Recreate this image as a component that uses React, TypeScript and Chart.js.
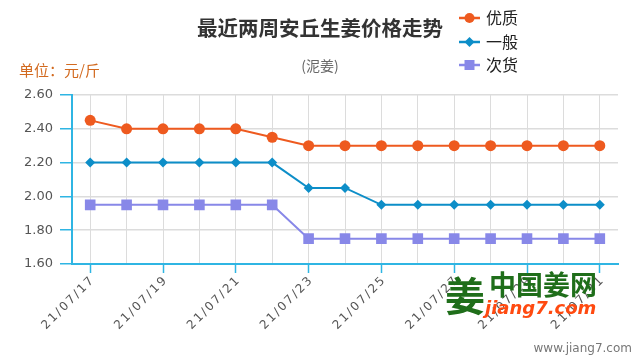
import React, { useEffect, useRef } from "react";
import { Chart, registerables } from "chart.js";

Chart.register(...registerables);

const categories = [
  "21/07/17", "21/07/18", "21/07/19", "21/07/20", "21/07/21", "21/07/22", "21/07/23", "21/07/24",
  "21/07/25", "21/07/26", "21/07/27", "21/07/28", "21/07/29", "21/07/30", "21/07/31",
];
const premium = [2.45, 2.4, 2.4, 2.4, 2.4, 2.35, 2.3, 2.3, 2.3, 2.3, 2.3, 2.3, 2.3, 2.3, 2.3];
const regular = [2.2, 2.2, 2.2, 2.2, 2.2, 2.2, 2.05, 2.05, 1.95, 1.95, 1.95, 1.95, 1.95, 1.95, 1.95];
const inferior = [1.95, 1.95, 1.95, 1.95, 1.95, 1.95, 1.75, 1.75, 1.75, 1.75, 1.75, 1.75, 1.75, 1.75, 1.75];
const seriesNames = ["优质", "一般", "次货"];
const yTicks = [1.6, 1.8, 2.0, 2.2, 2.4, 2.6];

const title = "最近两周安丘生姜价格走势";
const subtitle = "(泥姜)";
const unitLabel = "单位：元/斤";

const ORANGE = "#ee5a1f";
const BLUE = "#0d8ec8";
const PURPLE = "#8888e8";
const CYAN = "#2fb5e3";
const GRID = "#dcdcdc";

function drawMarker(ctx: CanvasRenderingContext2D, kind: string, x: number, y: number, color: string) {
  ctx.fillStyle = color;
  ctx.beginPath();
  if (kind === "circle") {
    ctx.arc(x, y, 5, 0, Math.PI * 2);
  } else if (kind === "diamond") {
    ctx.moveTo(x, y - 5);
    ctx.lineTo(x + 5, y);
    ctx.lineTo(x, y + 5);
    ctx.lineTo(x - 5, y);
    ctx.closePath();
  } else {
    ctx.rect(x - 5, y - 5, 10, 10);
  }
  ctx.fill();
}

const decorPlugin = {
  id: "decor",
  afterDraw(chart: any) {
    const ctx: CanvasRenderingContext2D = chart.ctx;
    const xScale = chart.scales.x;
    ctx.save();
    // x labels
    ctx.font = "12px 'DejaVu Sans'";
    (ctx as any).letterSpacing = "2px";
    ctx.fillStyle = "#555";
    ctx.textAlign = "right";
    ctx.textBaseline = "middle";
    categories.forEach((c, i) => {
      if (i % 2 !== 0) return;
      const px = xScale.getPixelForTick(i);
      ctx.save();
      ctx.translate(px + 3, xScale.top + 14);
      ctx.rotate(-Math.PI / 4);
      ctx.fillText(c, 0, 0);
      ctx.restore();
    });
    (ctx as any).letterSpacing = "0px";

    // title
    ctx.textAlign = "center";
    ctx.fillStyle = "#333";
    ctx.font = "bold 20.5px 'Noto Sans CJK SC'";
    ctx.fillText(title, 320, 28);
    ctx.fillStyle = "#666";
    ctx.font = "14px 'Noto Sans CJK SC'";
    ctx.fillText(subtitle, 320, 66);
    ctx.textAlign = "left";
    ctx.fillStyle = "#d2691e";
    ctx.font = "15px 'Noto Sans CJK SC'";
    ctx.fillText(unitLabel, 19, 70);

    // legend
    const colors = [ORANGE, BLUE, PURPLE];
    const kinds = ["circle", "diamond", "square"];
    const ys = [18, 42, 65];
    seriesNames.forEach((n, i) => {
      const y = ys[i];
      ctx.strokeStyle = colors[i];
      ctx.lineWidth = 2.5;
      ctx.beginPath();
      ctx.moveTo(459, y);
      ctx.lineTo(480, y);
      ctx.stroke();
      drawMarker(ctx, kinds[i], 469.5, y, colors[i]);
      ctx.fillStyle = "#222";
      ctx.font = "16px 'Noto Sans CJK SC'";
      ctx.textAlign = "left";
      ctx.fillText(n, 486, y);
    });

    // watermark
    ctx.fillStyle = "#1f6e1a";
    ctx.font = "bold 40px 'Noto Sans CJK SC'";
    ctx.textAlign = "center";
    ctx.fillText("姜", 465, 296);
    ctx.font = "bold 27px 'Noto Sans CJK SC'";
    ctx.textAlign = "left";
    ctx.fillText("中国姜网", 489, 285);
    ctx.fillStyle = "#ff4a10";
    ctx.font = "italic bold 18px 'DejaVu Sans'";
    ctx.fillText("jiang7.com", 485, 309);
    ctx.fillStyle = "#777";
    ctx.font = "12px 'DejaVu Sans'";
    ctx.textAlign = "right";
    ctx.fillText("www.jiang7.com", 632, 349);
    ctx.restore();
  },
};

export default function App() {
  const ref = useRef<HTMLCanvasElement | null>(null);
  useEffect(() => {
    if (!ref.current) return;
    const mk = (label: string, data: number[], color: string, style: any, r: number) => ({
      label,
      data,
      borderColor: color,
      backgroundColor: color,
      pointBackgroundColor: color,
      pointBorderColor: color,
      pointStyle: style,
      pointRadius: r,
      pointBorderWidth: 0,
      borderWidth: 2,
      tension: 0,
    });
    const chart = new Chart(ref.current, {
      type: "line",
      data: {
        labels: categories,
        datasets: [
          mk(seriesNames[0], premium, ORANGE, "circle", 5.5),
          mk(seriesNames[1], regular, BLUE, "rectRot", 5),
          mk(seriesNames[2], inferior, PURPLE, "rect", 7.5),
        ],
      },
      options: {
        responsive: false,
        animation: false,
        layout: { padding: { top: 95, right: 22, left: 0, bottom: 0 } },
        plugins: { legend: { display: false }, tooltip: { enabled: false }, title: { display: false } },
        scales: {
          x: {
            offset: true,
            grid: {
              offset: false,
              color: GRID,
              tickLength: 9,
              tickColor: (c: any) => (c.index % 2 === 0 ? CYAN : "rgba(0,0,0,0)"),
              tickWidth: 1.5,
            },
            border: { color: CYAN, width: 2 },
            ticks: { display: false, autoSkip: false },
            afterFit: (s: any) => {
              s.height = 96;
            },
          },
          y: {
            min: 1.6,
            max: 2.6,
            afterBuildTicks: (s: any) => {
              s.ticks = yTicks.map((v) => ({ value: v }));
            },
            grid: { color: GRID, tickLength: 12, tickColor: CYAN, tickWidth: 1.5, lineWidth: 1.5 },
            border: { color: CYAN, width: 2 },
            ticks: {
              padding: 7,
              color: "#555",
              font: { family: "'DejaVu Sans'", size: 13 },
              callback: (v: any) => Number(v).toFixed(2),
            },
            afterFit: (s: any) => {
              s.width = 72;
            },
          },
        },
      },
      plugins: [decorPlugin],
    });
    return () => chart.destroy();
  }, []);
  return (
    <div style={{ position: "fixed", left: 0, top: 0, width: 640, height: 360, background: "#fff" }}>
      <canvas ref={ref} width={640} height={360} />
    </div>
  );
}
